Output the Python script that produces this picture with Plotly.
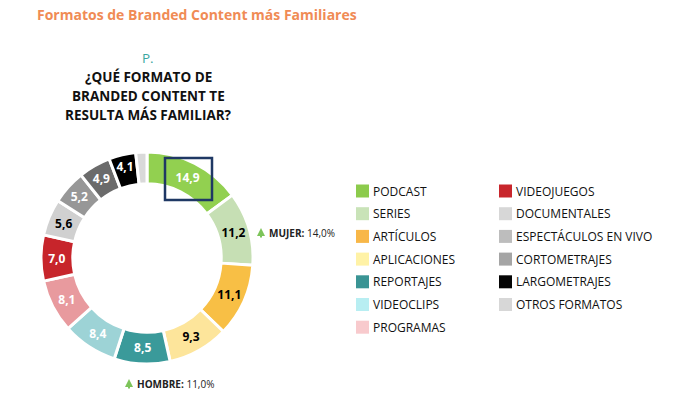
import plotly.graph_objects as go

W, H = 700, 402

categories = ["PODCAST", "SERIES", "ARTÍCULOS", "APLICACIONES", "REPORTAJES",
              "VIDEOCLIPS", "PROGRAMAS", "VIDEOJUEGOS", "DOCUMENTALES",
              "ESPECTÁCULOS EN VIVO", "CORTOMETRAJES", "LARGOMETRAJES", "OTROS FORMATOS"]
values = [14.9, 11.2, 11.1, 9.3, 8.5, 8.4, 8.1, 7.0, 5.6, 5.2, 4.9, 4.1, 1.7]
show_label = [True] * 12 + [False]
slice_colors = ["#92D050", "#C6DFB4", "#F8BF45", "#FDE59B", "#3A9A9A", "#9DD3D6",
                "#E89A9E", "#C7252B", "#D0D0D0", "#979797", "#6B6B6B", "#000000", "#D9D9D9"]
legend_colors = ["#8CCB4C", "#C9E3B8", "#F8B748", "#FFF2A6", "#3A9494", "#B8EEF2",
                 "#F8CACD", "#C8262C", "#D7D7D7", "#BDBDBD", "#A5A5A5", "#050505", "#D7D7D7"]
label_colors = ["white", "black", "black", "black", "white", "white", "white",
                "white", "black", "white", "white", "white", "black"]

gender_notes = [("MUJER", "14,0%"), ("HOMBRE", "11,0%")]

def fmt(v):
    return f"{v:.1f}".replace(".", ",")

texts = [fmt(v) if s else "" for v, s in zip(values, show_label)]

def px(x):
    return x / W

def py(y):
    return 1 - y / H

FONT = "Open Sans"
GREEN = "#7DC45A"

fig = go.Figure()
fig.add_trace(go.Pie(
    labels=categories, values=values, text=texts, textinfo="text",
    textposition="inside", insidetextorientation="horizontal",
    sort=False, direction="clockwise", rotation=0, hole=0.70,
    marker=dict(colors=slice_colors, line=dict(color="white", width=3)),
    textfont=dict(family=FONT, size=12, color=label_colors, weight="bold"),
    domain=dict(x=[px(41), px(253)], y=[py(364), py(152)]),
    showlegend=False, hoverinfo="label+value",
))

ann = []
ann.append(dict(x=px(35), y=py(15), text="<b>Formatos de Branded Content más Familiares</b>",
                font=dict(family=FONT, size=14, color="#F08B55"),
                xanchor="left", yanchor="middle", showarrow=False))
ann.append(dict(x=px(148), y=py(58), text="P.", font=dict(family=FONT, size=13.5, color="#3AA6A0"),
                xanchor="center", yanchor="middle", showarrow=False))
for i, line in enumerate(["¿QUÉ FORMATO DE", "BRANDED CONTENT TE", "RESULTA MÁS FAMILIAR?"]):
    ann.append(dict(x=px(148), y=py(77 + 19 * i), text=f"<b>{line}</b>",
                    font=dict(family=FONT, size=13.5, color="#111111"),
                    xanchor="center", yanchor="middle", showarrow=False))

note_pos = [(261, 233), (129, 384)]
for (name, val), (nx, ny) in zip(gender_notes, note_pos):
    ann.append(dict(x=px(nx), y=py(ny - 5), ax=0, ay=11, text="", showarrow=True,
                    arrowhead=2, arrowsize=0.8, arrowwidth=2, arrowcolor=GREEN,
                    xref="paper", yref="paper"))
    ann.append(dict(x=px(nx + 6), y=py(ny), text=f"<b>{name}:</b> {val}",
                    font=dict(family=FONT, size=10, color="#222222"),
                    xanchor="left", yanchor="middle", showarrow=False))

shapes = [dict(type="rect", xref="paper", yref="paper",
               x0=px(165), x1=px(212), y0=py(200), y1=py(158),
               line=dict(color="#1F3864", width=2.5), fillcolor="rgba(0,0,0,0)")]

# legend (two columns: first 7, then 6)
for i, (cat, col) in enumerate(zip(categories, legend_colors)):
    c, r = (0, i) if i < 7 else (1, i - 7)
    sx = 356 if c == 0 else 499
    cy = 191 + 22.7 * r
    shapes.append(dict(type="rect", xref="paper", yref="paper",
                       x0=px(sx), x1=px(sx + 13), y0=py(cy + 6.5), y1=py(cy - 6.5),
                       line=dict(width=0), fillcolor=col))
    ann.append(dict(x=px(sx + 15), y=py(cy), text=cat,
                    font=dict(family=FONT, size=12, color="#111111"),
                    xanchor="left", yanchor="middle", showarrow=False))

fig.update_layout(width=W, height=H, margin=dict(l=0, r=0, t=0, b=0),
                  paper_bgcolor="white", plot_bgcolor="white",
                  annotations=ann, shapes=shapes)

fig.write_html("out.html", config={"displayModeBar": False},
               post_script="document.body.style.margin='0';")
